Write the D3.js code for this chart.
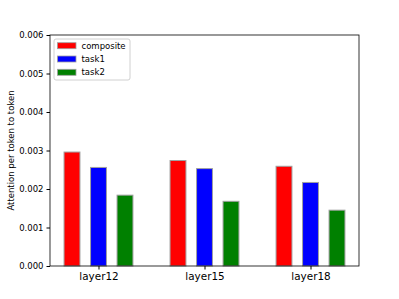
<!DOCTYPE html>
<html>
<head>
<meta charset="utf-8">
<script src="https://cdn.jsdelivr.net/npm/d3@7"></script>
<style>
  body { margin: 0; background: #fff; }
  text { font-family: "DejaVu Sans", sans-serif; }
</style>
</head>
<body>
<div id="chart"></div>
<script>
var layers = ["layer12", "layer15", "layer18"];
var seriesNames = ["composite", "task1", "task2"];
var seriesColors = ["#ff0000", "#0000ff", "#008000"];
var composite = [0.00296, 0.00274, 0.00259];
var task1 = [0.00256, 0.00253, 0.00217];
var task2 = [0.00184, 0.00168, 0.00145];
var yTicks = [0, 0.001, 0.002, 0.003, 0.004, 0.005, 0.006];

var values = [composite, task1, task2];
var offsets = [-0.25, 0, 0.25];
var barW = 0.15;

var width = 399, height = 299;
var mLeft = 50, mRight = 359, mTop = 35, mBottom = 266;

var svg = d3.select("#chart").append("svg")
  .attr("width", width)
  .attr("height", height);

var x = d3.scaleLinear().domain([-0.4575, 2.4575]).range([mLeft, mRight]);
var y = d3.scaleLinear().domain([0, 0.006]).range([mBottom, mTop]);

// bars
values.forEach(function(vals, s) {
  svg.append("g").selectAll("rect")
    .data(vals)
    .enter().append("rect")
    .attr("x", function(d, i) { return x(i + offsets[s] - barW / 2); })
    .attr("width", function() { return x(barW) - x(0); })
    .attr("y", function(d) { return y(d); })
    .attr("height", function(d) { return y(0) - y(d); })
    .style("fill", seriesColors[s])
    .style("stroke", "#a0a0a0")
    .style("stroke-width", 1);
});

// frame
svg.append("rect")
  .attr("x", mLeft).attr("y", mTop)
  .attr("width", mRight - mLeft).attr("height", mBottom - mTop)
  .style("fill", "none")
  .style("stroke", "#000")
  .style("stroke-width", 0.8);

// y axis
var yAxis = svg.append("g")
  .attr("transform", "translate(" + mLeft + ",0)")
  .call(d3.axisLeft(y).tickValues(yTicks).tickFormat(d3.format(".3f")).tickSize(3.5).tickPadding(3));
yAxis.select(".domain").remove();
yAxis.selectAll("text").style("font-size", "8.5px").style("font-family", "DejaVu Sans");

// x axis
var xAxis = svg.append("g")
  .attr("transform", "translate(0," + mBottom + ")")
  .call(d3.axisBottom(x).tickValues([0, 1, 2]).tickFormat(function(d) { return layers[d]; }).tickSize(3.5).tickPadding(3));
xAxis.select(".domain").remove();
xAxis.selectAll("text").style("font-size", "10.4px").style("font-family", "DejaVu Sans");

// y label
svg.append("text")
  .attr("transform", "translate(14," + ((mTop + mBottom) / 2) + ") rotate(-90)")
  .attr("text-anchor", "middle")
  .style("font-size", "8.5px")
  .text("Attention per token to token");

// legend
var legend = svg.append("g").attr("transform", "translate(54,39)");
legend.append("rect")
  .attr("width", 76).attr("height", 41)
  .attr("rx", 2)
  .style("fill", "#fff")
  .style("stroke", "#d0d0d0")
  .style("stroke-width", 1);
seriesNames.forEach(function(name, i) {
  var row = legend.append("g").attr("transform", "translate(0," + (6.7 + i * 13.3) + ")");
  row.append("rect")
    .attr("x", 3.5).attr("y", -3)
    .attr("width", 18.5).attr("height", 6)
    .style("fill", seriesColors[i])
    .style("stroke", "#a0a0a0")
    .style("stroke-width", 0.8);
  row.append("text")
    .attr("x", 27.5).attr("y", 3)
    .style("font-size", "8.5px")
    .text(name);
});
</script>
</body>
</html>
